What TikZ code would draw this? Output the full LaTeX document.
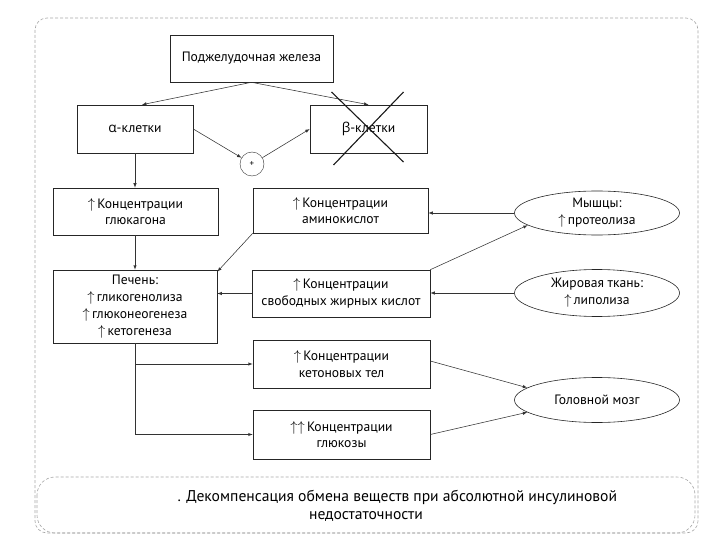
\documentclass[tikz,border=0pt]{standalone}
\usepackage{fontspec}
\setmainfont{PT Sans}
\newfontfamily\grfont{Open Sans}
\usetikzlibrary{shapes.geometric}

\newcommand{\up}{$\uparrow$\,}

\begin{document}
\begin{tikzpicture}[x=1pt, y=-1pt, font=\fontsize{13.6}{16.8}\selectfont, >=latex,
  frame/.style={draw=black!35, densely dashed, line width=0.6pt},
  box/.style={draw=black!85, line width=0.6pt, align=center, inner sep=2pt},
  oval/.style={draw=black!85, ellipse, line width=0.6pt, align=center, inner sep=1pt,
    minimum width=165pt},
  arr/.style={->, draw=black!80, line width=0.55pt},
  cross/.style={draw=black!90, line width=1.1pt}]
  \useasboundingbox (0,0) rectangle (720,540);

  % frames
  \draw[frame, rounded corners=12pt] (35,18) rectangle (698,533);
  \draw[frame, rounded corners=18pt] (37,477) rectangle (695,533);

  % boxes
  \node[box, minimum width=163pt, minimum height=47pt] (pan) at (251.5,58.5) {Поджелудочная железа};
  \node[box, minimum width=116pt, minimum height=48pt] (alpha) at (135,129) {{\grfont α}-клетки};
  \node[box, minimum width=117pt, minimum height=48pt] (beta) at (368.5,129) {{\grfont β}-клетки};
  \node[draw=black!80, circle, minimum size=24pt, inner sep=0pt, font=\small] (plus) at (252,164) {+};
  \node[box, minimum width=165pt, minimum height=47pt] (gluc) at (135.5,211.5) {\up Концентрации\\глюкагона};
  \node[box, minimum width=175pt, minimum height=45pt] (amino) at (340.5,210.5) {\up Концентрации\\аминокислот};
  \node[box, minimum width=164pt, minimum height=73pt] (liver) at (135,306.5)
    {Печень:\\\up гликогенолиза\\\up глюконеогенеза\\\up кетогенеза};
  \node[box, minimum width=178pt, minimum height=47pt] (ffa) at (341,293.5) {\up Концентрации\\свободных жирных кислот};
  \node[box, minimum width=177pt, minimum height=48pt] (keton) at (341.5,364) {\up Концентрации\\кетоновых тел};
  \node[box, minimum width=177pt, minimum height=49pt] (glucose) at (341.5,434.5) {$\uparrow\uparrow$\,Концентрации\\глюкозы};

  % ovals
  \node[oval, minimum height=43pt] (muscle) at (597,213) {Мышцы:\\\up протеолиза};
  \node[oval, minimum height=47pt] (fat) at (597,293) {Жировая ткань:\\\up липолиза};
  \node[oval, minimum height=45pt] (brain) at (597,400) {Головной мозг};

  % caption
  \node[anchor=west, font=\fontsize{15.6}{18}\selectfont] (capA) at (174,497)
    {. Декомпенсация обмена веществ при абсолютной инсулиновой};
  \node[font=\fontsize{15.6}{18}\selectfont] (capB) at (366,516) {недостаточности};

  % connectors
  \draw[arr] (pan.south) -- ([xshift=7pt]alpha.north);
  \draw[arr] (pan.south) -- (beta.north);
  \draw[arr] (alpha.east) -- (plus);
  \draw[arr] (plus) -- (beta.west);
  \draw[cross] ([shift={(-37,-37)}]beta.center) -- ([shift={(35,33)}]beta.center);
  \draw[cross] ([shift={(35,-37)}]beta.center) -- ([shift={(-35,36)}]beta.center);
  \draw[arr] (alpha.south) -- (gluc.north -| alpha.south);
  \draw[arr] (gluc.south -| liver.north) -- (liver.north);
  \draw[arr] (amino.south west) -- ([yshift=-2pt]liver.north east);
  \draw[arr] (muscle.west) -- (muscle.west -| amino.east);
  \draw[arr] (ffa.north east) -- (muscle.190);
  \draw[arr] (fat.west) -- (fat.west -| ffa.east);
  \draw[arr] (ffa.west) -- (ffa.west -| liver.east);
  \draw[arr] (liver.south) |- (keton.west);
  \draw[arr] (liver.south) |- (glucose.west);
  \draw[arr] ([yshift=3pt]keton.east) -- (brain.170);
  \draw[arr] (glucose.east) -- (brain.190);
\end{tikzpicture}
\end{document}
